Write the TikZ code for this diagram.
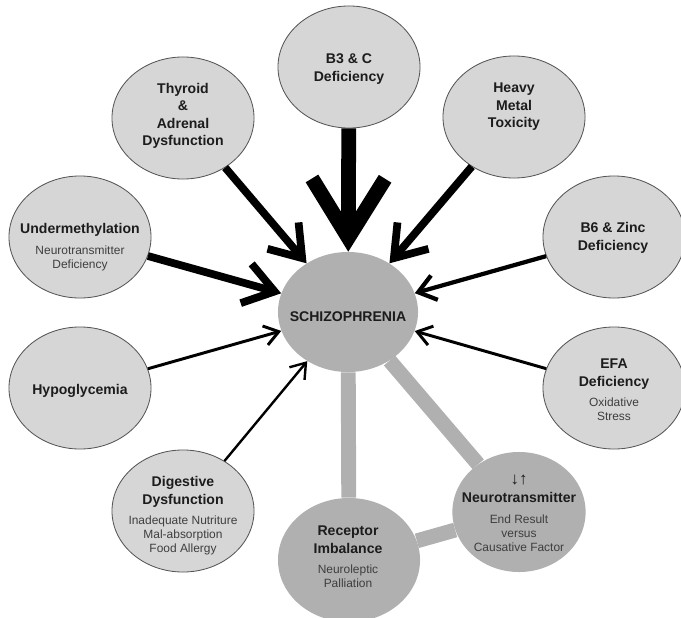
\documentclass[tikz,border=0pt]{standalone}
\usepackage{fontspec}
\setmainfont{Liberation Sans}
\usetikzlibrary{shapes.geometric,arrows.meta}

\definecolor{lightfill}{RGB}{214,214,214}
\definecolor{darkfill}{RGB}{176,176,176}
\definecolor{rimgray}{RGB}{85,85,85}
\definecolor{inkgray}{RGB}{28,28,28}
\definecolor{subgray}{RGB}{62,62,62}
\newcommand{\subtext}[1]{{\mdseries\color{subgray}\fontsize{8.5}{10}\selectfont #1}}

\begin{document}
\begin{tikzpicture}[x=0.025cm,y=-0.025cm,
  cause/.style={ellipse,draw=rimgray,line width=0.6pt,fill=lightfill,
    minimum width=3.55cm,minimum height=3.05cm,inner sep=0pt},
  effect/.style={ellipse,fill=darkfill,inner sep=0pt},
  txt/.style={align=center,text=inkgray,font=\fontsize{10}{12.4}\selectfont\bfseries},
  link/.style={draw=darkfill,line width=10.6pt},
  bigarrow/.style={line width=10.5pt,-{Straight Barb[length=42pt,width=52pt]}},
  midarrow/.style={line width=5.5pt,-{Straight Barb[length=21pt,width=29pt]}},
  smallarrow/.style={line width=3pt,-{Straight Barb[length=12pt,width=18pt]}},
  thinarrow/.style={line width=2.1pt,-{Straight Barb[length=10pt,width=14pt]}}]
  \useasboundingbox (0,0) rectangle (681,617);

  % causes round the outside
  \node[cause] (b3) at (349,67) {};
  \node[cause] (thy) at (183,118) {};
  \node[cause] (heavy) at (514,117) {};
  \node[cause] (under) at (80,237) {};
  \node[cause] (zinc) at (614,237) {};
  \node[cause] (hypo) at (80,388) {};
  \node[cause] (efa) at (614,388) {};
  \node[cause] (dig) at (183,511) {};

  % the disorder and its two partners
  \node[effect,minimum width=3.5cm,minimum height=3cm] (schiz) at (348,312) {};
  \node[effect,minimum width=3.55cm,minimum height=3.1cm] (recep) at (349,560) {};
  \node[effect,minimum width=3.33cm,minimum height=3cm] (neuro) at (519,512) {};

  \draw[link] (schiz) -- (recep);
  \draw[link] (schiz) -- (neuro);
  \draw[link] (recep) -- (neuro);

  % texts
  \node[txt] (schizt) at (348,317) {SCHIZOPHRENIA};
  \node[txt] (b3t) at (349,69) {B3 \& C\\Deficiency};
  \node[txt] (thyt) at (183,116) {Thyroid\\\&\\Adrenal\\Dysfunction};
  \node[txt] (heavyt) at (514,107) {Heavy\\Metal\\Toxicity};
  \node[txt] (undert) at (80,247) {Undermethylation\\[2.1pt]
    \subtext{Neurotransmitter}\\[-2.4pt]\subtext{Deficiency}};
  \node[txt] (zinct) at (613,238) {B6 \& Zinc\\Deficiency};
  \node[txt] (hypot) at (80,391) {Hypoglycemia};
  \node[txt] (efat) at (614,390) {EFA\\Deficiency\\[2.1pt]
    \subtext{Oxidative}\\[-2.4pt]\subtext{Stress}};
  \node[txt] (digt) at (183,516) {Digestive\\Dysfunction\\[2.1pt]
    \subtext{Inadequate Nutriture}\\[-2.4pt]\subtext{Mal-absorption}\\[-2.4pt]\subtext{Food Allergy}};
  \node[txt] (recept) at (348,557) {Receptor\\Imbalance\\[2.1pt]
    \subtext{Neuroleptic}\\[-2.4pt]\subtext{Palliation}};
  \node[txt] (neurot) at (519,513) {{\fontsize{12}{12}\selectfont ↓↑}\\[1pt]Neurotransmitter\\[2.1pt]
    \subtext{End Result}\\[-2.4pt]\subtext{versus}\\[-2.4pt]\subtext{Causative Factor}};

  % arrows into the centre
  \draw[bigarrow] (b3) -- (schiz);
  \draw[midarrow] (thy) -- (schiz);
  \draw[midarrow] (heavy) -- (schiz);
  \draw[midarrow] (under) -- (schiz);
  \draw[smallarrow] (zinc) -- (schiz);
  \draw[thinarrow] (hypo) -- (schiz);
  \draw[thinarrow] (efa) -- (schiz);
  \draw[thinarrow,line width=1.7pt] (dig) -- (schiz);
\end{tikzpicture}
\end{document}
